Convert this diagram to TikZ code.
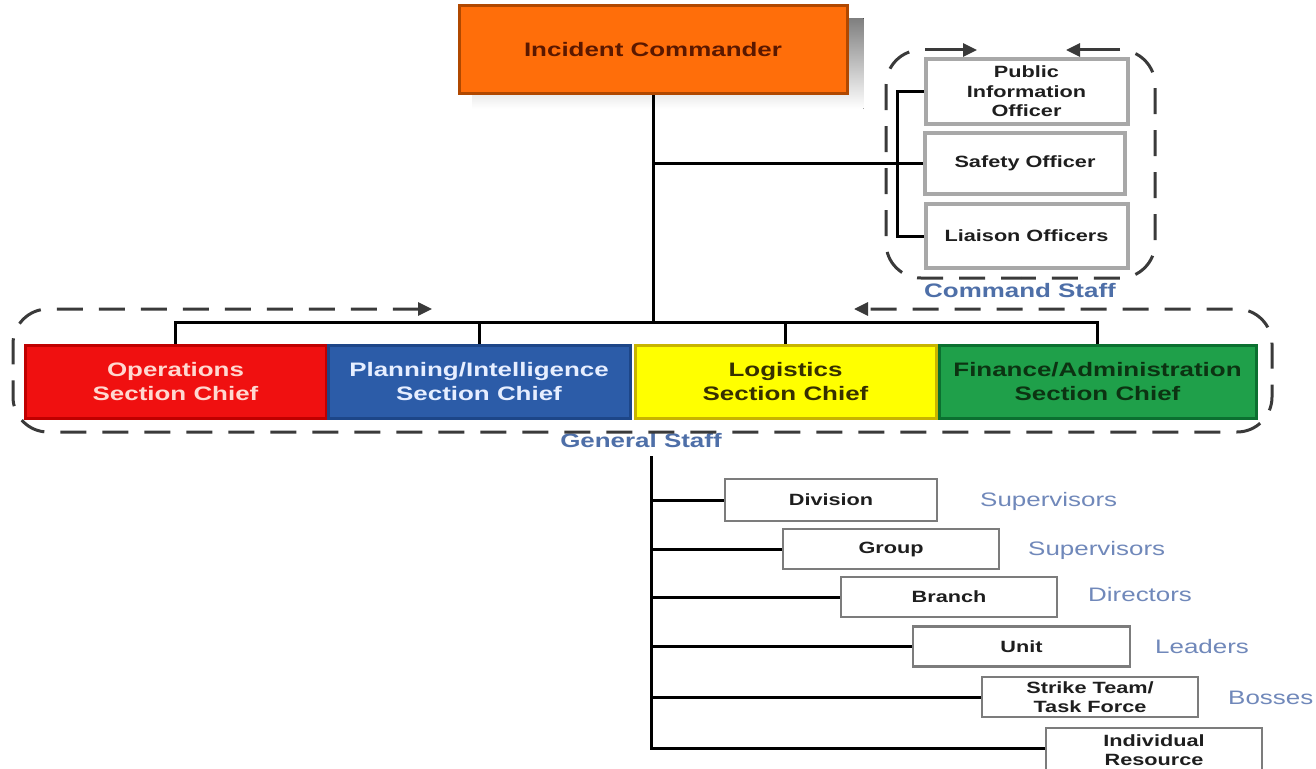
\documentclass[tikz,border=0pt]{standalone}
\usepackage{fontspec}
\setmainfont{Liberation Sans}[FakeStretch=1.33]
\usetikzlibrary{arrows.meta,backgrounds}

\definecolor{icfill}{HTML}{FF6E0A}
\definecolor{icedge}{HTML}{B04800}
\definecolor{ictext}{HTML}{5A1800}
\definecolor{shade}{HTML}{C9C9CD}
\definecolor{opsfill}{HTML}{F01010}
\definecolor{opsedge}{HTML}{C00000}
\definecolor{opstext}{HTML}{FFD8D0}
\definecolor{planfill}{HTML}{2C5CA8}
\definecolor{planedge}{HTML}{1D4688}
\definecolor{plantext}{HTML}{E6EEFF}
\definecolor{logfill}{HTML}{FFFF00}
\definecolor{logedge}{HTML}{C8B400}
\definecolor{logtext}{HTML}{363000}
\definecolor{finfill}{HTML}{1FA04A}
\definecolor{finedge}{HTML}{0B7030}
\definecolor{fintext}{HTML}{0C3312}
\definecolor{staffedge}{HTML}{A8A8A8}
\definecolor{unitedge}{HTML}{7C7C7C}
\definecolor{boxtext}{HTML}{1E1E1E}
\definecolor{dashgray}{HTML}{3A3A3A}
\definecolor{grpblue}{HTML}{4E6FA8}
\definecolor{tagblue}{HTML}{7088BA}

\begin{document}
\begin{tikzpicture}[x=1pt,y=-1pt,
  bigtext/.style={font=\bfseries\fontsize{19.5}{24}\selectfont, align=center},
  medtext/.style={font=\bfseries\fontsize{16.3}{19.5}\selectfont, align=center, text=boxtext},
  sectbox/.style={bigtext, draw, line width=3pt, minimum height=73pt, inner sep=0pt},
  staffbox/.style={medtext, draw=staffedge, fill=white, line width=4pt, inner sep=0pt},
  unitbox/.style={medtext, draw=unitedge, fill=white, line width=2.5pt, minimum width=216pt, minimum height=40pt, inner sep=0pt},
  wire/.style={line width=3pt, black},
  encl/.style={draw=dashgray, line width=3pt, dash pattern=on 26pt off 16pt, rounded corners=35pt},
  flow/.style={draw=dashgray, line width=3pt, -{Triangle[length=14pt,width=13pt]}},
  grplabel/.style={font=\bfseries\fontsize{19.5}{24}\selectfont, text=grpblue},
  tag/.style={font=\fontsize{19.5}{24}\selectfont, text=tagblue, anchor=base west, inner sep=0pt}
]
\useasboundingbox (0,0) rectangle (1316,768);

% incident commander
\node[bigtext, fill=icfill, draw=icedge, line width=3pt, text=ictext,
      minimum width=388pt, minimum height=87pt, inner sep=0pt] (ic) at (653,49.5) {Incident Commander};

% command staff
\node[staffbox, minimum width=202pt, minimum height=64pt] (pio) at (1026.5,91.5) {Public\\Information\\Officer};
\node[staffbox, minimum width=200pt, minimum height=61pt] (so) at (1025,163) {Safety Officer};
\node[staffbox, minimum width=202pt, minimum height=64pt] (lo) at (1026.5,236) {Liaison Officers};
\node[grplabel] (cslabel) at (1020,291) {Command Staff};

% general staff
\node[sectbox, fill=opsfill, draw=opsedge, text=opstext, minimum width=301pt] (ops) at (175.5,381.5) {Operations\\Section Chief};
\node[sectbox, fill=planfill, draw=planedge, text=plantext, minimum width=302pt] (plan) at (479,381.5) {Planning/Intelligence\\Section Chief};
\node[sectbox, fill=logfill, draw=logedge, text=logtext, minimum width=301pt] (log) at (785.5,381.5) {Logistics\\Section Chief};
\node[sectbox, fill=finfill, draw=finedge, text=fintext, minimum width=317pt] (fin) at (1097.5,381.5) {Finance/Administration\\Section Chief};
\node[grplabel] (gslabel) at (641,441) {General Staff};

% field levels
\node[unitbox, minimum width=212pt, minimum height=42pt] (div) at (831,500) {Division};
\node[unitbox] (grp) at (891,549) {Group};
\node[unitbox] (br) at (949,597) {Branch};
\node[unitbox, minimum width=217pt] (unit) at (1021.5,646.5) {Unit};
\node[unitbox] (st) at (1090,697) {Strike Team/\\Task Force};
\node[unitbox, minimum height=44pt] (ind) at (1154,750) {Individual\\Resource};

\node[tag] (t1) at (980,506) {Supervisors};
\node[tag] (t2) at (1028,555) {Supervisors};
\node[tag] (t3) at (1088,601) {Directors};
\node[tag] (t4) at (1155,653) {Leaders};
\node[tag] (t5) at (1228,704) {Bosses};

\coordinate (bus) at (653,322);
\coordinate (cspine) at (897,162);
\coordinate (ltop) at (651,456);
\coordinate (lbot) at (651,748);

\begin{scope}[on background layer]
  \fill[white] (0,0) rectangle (1316,768);
  \fill[shade] ([shift={(15,14)}]ic.north west) rectangle ([shift={(15,14)}]ic.south east);
  % reporting lines
  \draw[wire] (ic.south) -- (bus);
  \draw[wire] (ops.north) |- (bus) -| (fin.north);
  \draw[wire] (plan.north) -- (plan.north |- bus);
  \draw[wire] (log.north) -- (log.north |- bus);
  \draw[wire] (ic.south |- so.west) -- (so.west);
  \draw[wire] (pio.west) -| (cspine) |- (lo.west);
  \draw[wire] (ltop) -- (lbot) -- (lbot -| ind.west);
  \draw[wire] (ltop |- div.west) -- (div.west);
  \draw[wire] (ltop |- grp.west) -- (grp.west);
  \draw[wire] (ltop |- br.west) -- (br.west);
  \draw[wire] (ltop |- unit.west) -- (unit.west);
  \draw[wire] (ltop |- st.west) -- (st.west);
\end{scope}

% dashed groupings with flow arrows
\draw[encl, dash phase=26pt] (925,50) -- (886,50) -- (886,278) -- (1021,278);
\draw[encl, dash phase=26pt] (1120,50) -- (1155,50) -- (1155,278) -- (1021,278);
\draw[flow] (925,50) -- (977,50);
\draw[flow] (1120,50) -- (1066,50);
\draw[encl, {Triangle[length=14pt,width=13pt]}-{Triangle[length=14pt,width=13pt]}]
  (432,309) -- (13,309) -- (13,432) -- (1272,432) -- (1272,309) -- (854,309);
\end{tikzpicture}
\end{document}
